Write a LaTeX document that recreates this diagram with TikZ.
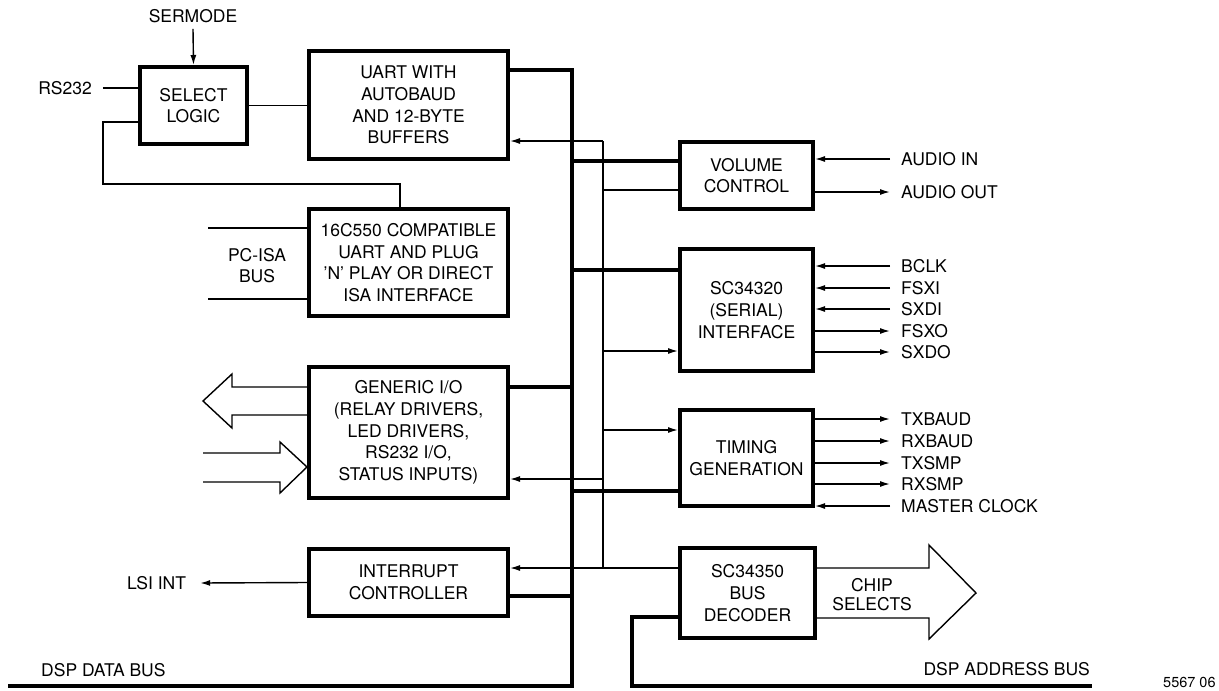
\documentclass[tikz,border=0pt]{standalone}
\usepackage{fontspec}
\setmainfont{TeX Gyre Heros}
\usetikzlibrary{arrows.meta}
\begin{document}
\begin{tikzpicture}[x=1pt,y=-1pt,
  txt/.style={font=\fontsize{17.5}{21.7}\selectfont, align=center, inner sep=0pt},
  blk/.style={draw, line width=4pt, txt},
  thin/.style={line width=1.4pt},
  arr/.style={thin, -{Latex[length=10pt,width=6pt]}},
  bus/.style={line width=4.5pt},
  conn/.style={line width=4pt},
  lbl/.style={txt, anchor=west}
]
\useasboundingbox (0,0) rectangle (1219,691);

% blocks
\node[blk, minimum width=107pt, minimum height=77pt] (sel) at (193.5,105.5) {SELECT\\LOGIC};
\node[blk, minimum width=199pt, minimum height=108pt] (uart) at (408.5,105) {UART WITH\\AUTOBAUD\\AND 12-BYTE\\BUFFERS};
\node[blk, minimum width=199pt, minimum height=107pt] (isa) at (408.5,262.5) {16C550 COMPATIBLE\\UART AND PLUG\\{\char"27}N{\char"27} PLAY OR DIRECT\\ISA INTERFACE};
\node[blk, minimum width=199pt, minimum height=131pt] (gio) at (408.5,432.5) {GENERIC I/O\\(RELAY DRIVERS,\\LED DRIVERS,\\RS232 I/O,\\STATUS INPUTS)};
\node[blk, minimum width=199pt, minimum height=67pt] (intr) at (408.5,582.5) {INTERRUPT\\CONTROLLER};
\node[blk, minimum width=133pt, minimum height=67pt] (vol) at (746.5,175.5) {VOLUME\\CONTROL};
\node[blk, minimum width=133pt, minimum height=122pt] (ser) at (746.5,310) {SC34320\\(SERIAL)\\INTERFACE};
\node[blk, minimum width=133pt, minimum height=96pt] (tim) at (746.5,458) {TIMING\\GENERATION};
\node[blk, minimum width=135pt, minimum height=90pt] (dec) at (747.5,593) {SC34350\\BUS\\DECODER};

% plain labels
\node[txt] (sermode) at (193,16) {SERMODE};
\node[txt] (rs) at (65,88) {RS232};
\node[txt] (pcisa) at (257,265.5) {PC-ISA\\BUS};
\node[txt] (lsi) at (156.5,583) {LSI INT};
\node[lbl] (dbus) at (41,670) {DSP DATA BUS};
\node[txt, anchor=east] (abus) at (1090,669) {DSP ADDRESS BUS};
\node[txt, font=\fontsize{14.5}{17}\selectfont, anchor=west] (fig) at (1163,682) {5567 06};
\node[txt, font=\fontsize{17.5}{19}\selectfont] (chips) at (872,595) {CHIP\\SELECTS};

% right-side signal labels
\node[lbl] (ain) at (901,159) {AUDIO IN};
\node[lbl] (aout) at (901,192) {AUDIO OUT};
\node[lbl] (bclk) at (901,266) {BCLK};
\node[lbl] (fsxi) at (901,288) {FSXI};
\node[lbl] (sxdi) at (901,309) {SXDI};
\node[lbl] (fsxo) at (901,331) {FSXO};
\node[lbl] (sxdo) at (901,352) {SXDO};
\node[lbl] (txb) at (901,419) {TXBAUD};
\node[lbl] (rxb) at (901,441) {RXBAUD};
\node[lbl] (txs) at (901,463) {TXSMP};
\node[lbl] (rxs) at (901,484) {RXSMP};
\node[lbl] (mclk) at (901,506) {MASTER CLOCK};

% inputs to boxes on right
\foreach \l/\b in {ain/vol, bclk/ser, fsxi/ser, sxdi/ser, mclk/tim}
  \draw[arr] ([xshift=-11pt]\l.west) -- (\b.east |- \l.west);
% outputs from boxes on right
\foreach \l/\b in {aout/vol, fsxo/ser, sxdo/ser, txb/tim, rxb/tim, txs/tim, rxs/tim}
  \draw[arr] (\b.east |- \l.west) -- ([xshift=-11pt]\l.west);

% select logic connections
\draw[arr] ([yshift=-6pt]sermode.south) -- (sel.north);
\draw[thin] ([xshift=11pt]rs.east) -- (sel.west |- rs.east);
\draw[thin] (sel.east) -- (uart.west |- sel.east);
\coordinate (k1) at (103,122);
\coordinate (k2) at (400,184);
\draw[thin] (sel.west |- k1) -- (k1) |- (k2) -- (k2 |- isa.north);

% PC-ISA bus lines
\coordinate (p1) at (208,228);
\coordinate (p2) at (208,299);
\draw[thin] (p1) -- (isa.west |- p1);
\draw[thin] (p2) -- (isa.west |- p2);

% generic I/O wide arrows
\draw[thin] (gio.west |- 0,387) -- (232,387) -- (232,374) -- (203,401) -- (232,428) -- (232,415) -- (gio.west |- 0,415);
\draw[thin] (203,453) -- (280,453) -- (280,442) -- (gio.west |- 0,467) -- (280,493) -- (280,482) -- (203,482);

% interrupt output
\draw[arr] (intr.west) -- ([xshift=14pt]lsi.east);

% DSP data bus
\coordinate (b0) at (572,70);
\coordinate (b1) at (572,686);
\coordinate (b2) at (8,686);
\draw[bus] (uart.east |- b0) -- (b0) -- (b1) -- (b2);
\coordinate (bv) at (572,161);
\coordinate (bs) at (572,270);
\coordinate (bg) at (572,387);
\coordinate (bt) at (572,491);
\coordinate (bi) at (572,596);
\draw[conn] (bv) -- (vol.west |- bv);
\draw[conn] (bs) -- (ser.west |- bs);
\draw[conn] (bg) -- (gio.east |- bg);
\draw[conn] (bt) -- (tim.west |- bt);
\draw[conn] (bi) -- (intr.east |- bi);

% control line
\coordinate (c0) at (603,141);
\coordinate (c5) at (603,568);
\coordinate (cv) at (603,190);
\coordinate (cs) at (603,351);
\coordinate (ct) at (603,430);
\coordinate (cg) at (603,479);
\draw[thin] (c0) -- (c5);
\draw[arr] (c0) -- (uart.east |- c0);
\draw[thin] (cv) -- (vol.west |- cv);
\draw[arr] (cs) -- (ser.west |- cs);
\draw[arr] (ct) -- (tim.west |- ct);
\draw[arr] (cg) -- (gio.east |- cg);
\draw[arr] (dec.west |- c5) -- (intr.east |- c5);

% chip selects wide arrow
\draw[thin] (dec.east |- 0,568) -- (929,568) -- (929,545) -- (976,593) -- (929,639) -- (929,618) -- (dec.east |- 0,618);

% DSP address bus
\coordinate (a1) at (632,617);
\coordinate (a2) at (632,686);
\coordinate (a3) at (1092,686);
\draw[bus] (dec.west |- a1) -- (a1) -- (a2) -- (a3);
\end{tikzpicture}
\end{document}
